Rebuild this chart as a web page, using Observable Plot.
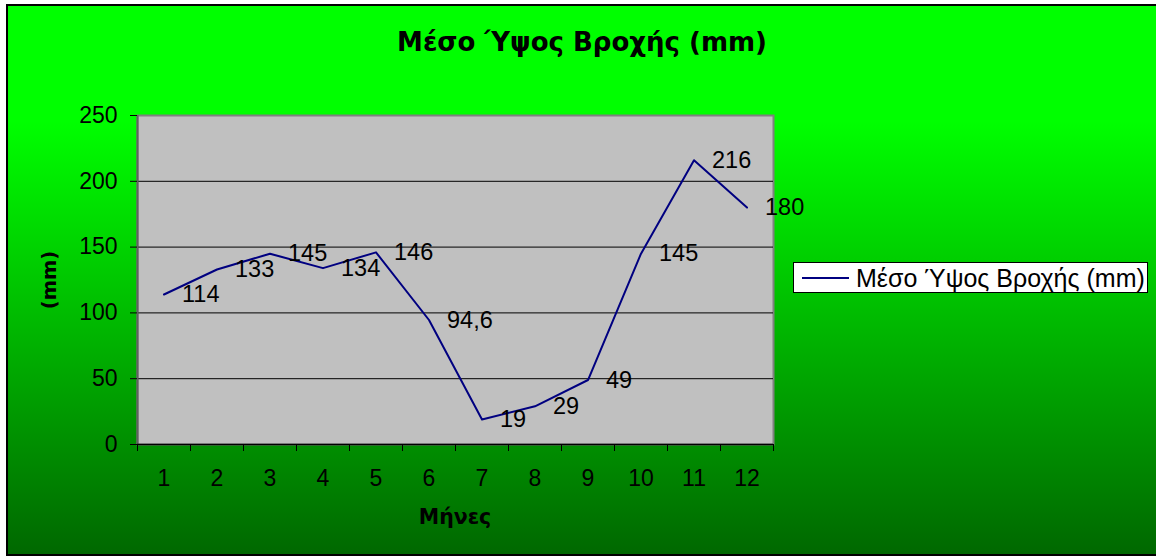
<!DOCTYPE html>
<html>
<head>
<meta charset="utf-8">
<script src="https://cdn.jsdelivr.net/npm/d3@7"></script>
<script src="https://cdn.jsdelivr.net/npm/@observablehq/plot@0.6"></script>
<style>
  html, body { margin: 0; padding: 0; background: #ffffff; }
  #wrap { position: relative; width: 1156px; height: 560px; overflow: hidden; font-family: "Liberation Sans", Arial, sans-serif; }
  #bg { position: absolute; left: 6px; top: 4px; width: 1170px; height: 552px; box-sizing: border-box;
        border: 2px solid #000; background: linear-gradient(to bottom, #00ff00 0%, #00ff00 21%, #006800 100%); }
  #chart { position: absolute; left: 0; top: 0; }
  #title { position: absolute; left: 0; width: 1164px; top: 27px; text-align: center;
           font-family: "DejaVu Sans", sans-serif; font-weight: bold; font-size: 26px; line-height: 30px; color: #000; }
  #xtitle { position: absolute; left: 0; width: 910px; top: 505px; text-align: center;
            font-family: "DejaVu Sans", sans-serif; font-weight: bold; font-size: 20.5px; line-height: 24px; color: #000; }
  #ytitle { position: absolute; left: 50px; top: 280px; transform: translate(-50%, -50%) rotate(-90deg);
            font-family: "DejaVu Sans", sans-serif; font-weight: bold; font-size: 19.5px; line-height: 24px; white-space: nowrap; }
  #legend { position: absolute; left: 793px; top: 262px; width: 355px; height: 31px; box-sizing: border-box;
            background: #fff; border: 1px solid #000; display: flex; align-items: center; }
  #legend svg { margin-left: 8px; margin-right: 7px; }
  #legend span { font-size: 25px; line-height: 28px; white-space: nowrap; }
</style>
</head>
<body>
<div id="wrap">
  <div id="bg"></div>
  <div id="chart"></div>
  <div id="title"></div>
  <div id="xtitle"></div>
  <div id="ytitle"></div>
  <div id="legend"></div>
</div>
<script>
const titleText = "Μέσο Ύψος Βροχής (mm)";
const seriesName = "Μέσο Ύψος Βροχής (mm)";
const xTitle = "Μήνες";
const yTitle = "(mm)";
const months = [1, 2, 3, 4, 5, 6, 7, 8, 9, 10, 11, 12];
const rainfall = [114, 133, 145, 134, 146, 94.6, 19, 29, 49, 145, 216, 180];
const yTicks = [0, 50, 100, 150, 200, 250];

const data = months.map((m, i) => ({month: m, value: rainfall[i]}));
const bounds = months.map(m => m - 0.5).concat([months[months.length - 1] + 0.5]);
const fmt = v => String(v).replace(".", ",");
const lineColor = "#000080";

const chart = Plot.plot({
  width: 1156,
  height: 560,
  marginLeft: 137,
  marginRight: 383,
  marginTop: 115,
  marginBottom: 116,
  style: {background: "transparent", fontFamily: "'Liberation Sans', Arial, sans-serif", overflow: "visible", color: "#000"},
  x: {type: "linear", domain: [bounds[0], bounds[bounds.length - 1]]},
  y: {domain: [0, 250]},
  marks: [
    Plot.frame({fill: "#c0c0c0", stroke: "#808080", strokeWidth: 2}),
    Plot.gridY(yTicks.filter(t => t > 0 && t < 250), {stroke: "#000", strokeOpacity: 1, strokeWidth: 1}),
    Plot.ruleX([bounds[0]], {stroke: "#606060", strokeWidth: 2}),
    Plot.ruleY([0], {stroke: "#000", strokeWidth: 1.5}),
    Plot.axisY(yTicks, {tickSize: 7, tickPadding: 13, fontSize: 23, stroke: "#000", fill: "#000", label: null}),
    Plot.axisX(bounds, {tickSize: 7, tickFormat: () => "", stroke: "#000", label: null}),
    Plot.axisX(months, {tickSize: 0, tickPadding: 25, fontSize: 23, fill: "#000", label: null}),
    Plot.line(data, {x: "month", y: "value", stroke: lineColor, strokeWidth: 2}),
    Plot.text(data, {x: "month", y: "value", text: d => fmt(d.value), dx: 18, textAnchor: "start", lineAnchor: "middle", fontSize: 23.5, fill: "#000"})
  ]
});
document.getElementById("chart").appendChild(chart);
document.getElementById("title").textContent = titleText;
document.getElementById("xtitle").textContent = xTitle;
document.getElementById("ytitle").textContent = yTitle;

const legend = document.getElementById("legend");
legend.innerHTML = `<svg width="47" height="4"><line x1="0" x2="47" y1="2" y2="2" stroke="${lineColor}" stroke-width="2"/></svg><span></span>`;
legend.querySelector("span").textContent = seriesName;
</script>
</body>
</html>
